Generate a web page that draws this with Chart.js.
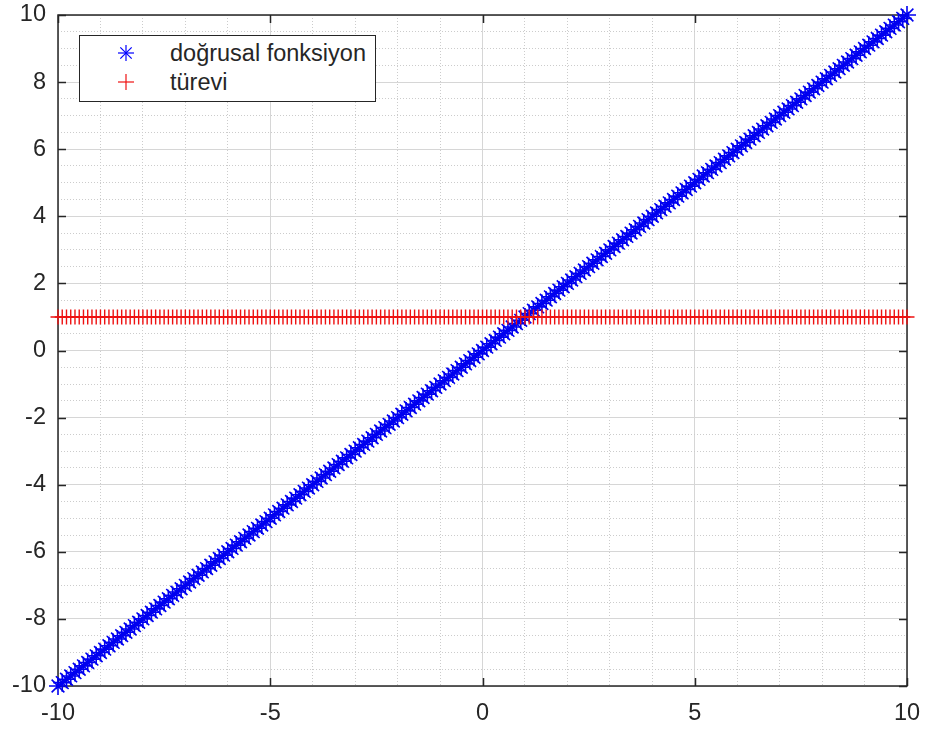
<!DOCTYPE html>
<html>
<head>
<meta charset="utf-8">
<script src="https://cdn.jsdelivr.net/npm/chart.js@4/dist/chart.umd.min.js"></script>
<style>
  body { margin: 0; background: #fff; }
  #wrap { position: relative; width: 930px; height: 731px; }
  #legend {
    position: absolute; left: 79px; top: 35px; width: 295px; height: 65px;
    border: 1px solid #262626; background: #fff;
    font-family: "Liberation Sans", Arial, Helvetica, sans-serif; font-size: 23.5px; color: #262626;
  }
  .row { position: absolute; left: 0; height: 28px; display: flex; align-items: center; }
  .row svg { position: absolute; left: 36px; }
  .row span { position: absolute; left: 90px; white-space: nowrap; }
</style>
</head>
<body>
<div id="wrap">
  <canvas id="grafik" width="930" height="731"></canvas>
  <div id="legend">
    <div class="row" style="top:3px">
      <svg width="20" height="20" viewBox="-10 -10 20 20"><g stroke="#0000ff" stroke-width="1.2">
        <line x1="0" y1="-8" x2="0" y2="8"/><line x1="-8" y1="0" x2="8" y2="0"/>
        <line x1="-5.7" y1="-5.7" x2="5.7" y2="5.7"/><line x1="-5.7" y1="5.7" x2="5.7" y2="-5.7"/></g></svg>
      <span>doğrusal fonksiyon</span>
    </div>
    <div class="row" style="top:32px">
      <svg width="20" height="20" viewBox="-10 -10 20 20"><g stroke="#ee1111" stroke-width="1.2">
        <line x1="0" y1="-8" x2="0" y2="8"/><line x1="-8" y1="0" x2="8" y2="0"/></g></svg>
      <span>türevi</span>
    </div>
  </div>
</div>
<script>
// x = -10:0.1:10
const xDegerleri = [
  -10, -9.9, -9.8, -9.7, -9.6, -9.5, -9.4, -9.3, -9.2, -9.1,
  -9, -8.9, -8.8, -8.7, -8.6, -8.5, -8.4, -8.3, -8.2, -8.1,
  -8, -7.9, -7.8, -7.7, -7.6, -7.5, -7.4, -7.3, -7.2, -7.1,
  -7, -6.9, -6.8, -6.7, -6.6, -6.5, -6.4, -6.3, -6.2, -6.1,
  -6, -5.9, -5.8, -5.7, -5.6, -5.5, -5.4, -5.3, -5.2, -5.1,
  -5, -4.9, -4.8, -4.7, -4.6, -4.5, -4.4, -4.3, -4.2, -4.1,
  -4, -3.9, -3.8, -3.7, -3.6, -3.5, -3.4, -3.3, -3.2, -3.1,
  -3, -2.9, -2.8, -2.7, -2.6, -2.5, -2.4, -2.3, -2.2, -2.1,
  -2, -1.9, -1.8, -1.7, -1.6, -1.5, -1.4, -1.3, -1.2, -1.1,
  -1, -0.9, -0.8, -0.7, -0.6, -0.5, -0.4, -0.3, -0.2, -0.1,
  0, 0.1, 0.2, 0.3, 0.4, 0.5, 0.6, 0.7, 0.8, 0.9,
  1, 1.1, 1.2, 1.3, 1.4, 1.5, 1.6, 1.7, 1.8, 1.9,
  2, 2.1, 2.2, 2.3, 2.4, 2.5, 2.6, 2.7, 2.8, 2.9,
  3, 3.1, 3.2, 3.3, 3.4, 3.5, 3.6, 3.7, 3.8, 3.9,
  4, 4.1, 4.2, 4.3, 4.4, 4.5, 4.6, 4.7, 4.8, 4.9,
  5, 5.1, 5.2, 5.3, 5.4, 5.5, 5.6, 5.7, 5.8, 5.9,
  6, 6.1, 6.2, 6.3, 6.4, 6.5, 6.6, 6.7, 6.8, 6.9,
  7, 7.1, 7.2, 7.3, 7.4, 7.5, 7.6, 7.7, 7.8, 7.9,
  8, 8.1, 8.2, 8.3, 8.4, 8.5, 8.6, 8.7, 8.8, 8.9,
  9, 9.1, 9.2, 9.3, 9.4, 9.5, 9.6, 9.7, 9.8, 9.9,
  10
];

// y = x
const dogrusalFonksiyon = [
  -10, -9.9, -9.8, -9.7, -9.6, -9.5, -9.4, -9.3, -9.2, -9.1,
  -9, -8.9, -8.8, -8.7, -8.6, -8.5, -8.4, -8.3, -8.2, -8.1,
  -8, -7.9, -7.8, -7.7, -7.6, -7.5, -7.4, -7.3, -7.2, -7.1,
  -7, -6.9, -6.8, -6.7, -6.6, -6.5, -6.4, -6.3, -6.2, -6.1,
  -6, -5.9, -5.8, -5.7, -5.6, -5.5, -5.4, -5.3, -5.2, -5.1,
  -5, -4.9, -4.8, -4.7, -4.6, -4.5, -4.4, -4.3, -4.2, -4.1,
  -4, -3.9, -3.8, -3.7, -3.6, -3.5, -3.4, -3.3, -3.2, -3.1,
  -3, -2.9, -2.8, -2.7, -2.6, -2.5, -2.4, -2.3, -2.2, -2.1,
  -2, -1.9, -1.8, -1.7, -1.6, -1.5, -1.4, -1.3, -1.2, -1.1,
  -1, -0.9, -0.8, -0.7, -0.6, -0.5, -0.4, -0.3, -0.2, -0.1,
  0, 0.1, 0.2, 0.3, 0.4, 0.5, 0.6, 0.7, 0.8, 0.9,
  1, 1.1, 1.2, 1.3, 1.4, 1.5, 1.6, 1.7, 1.8, 1.9,
  2, 2.1, 2.2, 2.3, 2.4, 2.5, 2.6, 2.7, 2.8, 2.9,
  3, 3.1, 3.2, 3.3, 3.4, 3.5, 3.6, 3.7, 3.8, 3.9,
  4, 4.1, 4.2, 4.3, 4.4, 4.5, 4.6, 4.7, 4.8, 4.9,
  5, 5.1, 5.2, 5.3, 5.4, 5.5, 5.6, 5.7, 5.8, 5.9,
  6, 6.1, 6.2, 6.3, 6.4, 6.5, 6.6, 6.7, 6.8, 6.9,
  7, 7.1, 7.2, 7.3, 7.4, 7.5, 7.6, 7.7, 7.8, 7.9,
  8, 8.1, 8.2, 8.3, 8.4, 8.5, 8.6, 8.7, 8.8, 8.9,
  9, 9.1, 9.2, 9.3, 9.4, 9.5, 9.6, 9.7, 9.8, 9.9,
  10
];

// dy/dx = 1
const turevi = [
  1, 1, 1, 1, 1, 1, 1, 1, 1, 1,
  1, 1, 1, 1, 1, 1, 1, 1, 1, 1,
  1, 1, 1, 1, 1, 1, 1, 1, 1, 1,
  1, 1, 1, 1, 1, 1, 1, 1, 1, 1,
  1, 1, 1, 1, 1, 1, 1, 1, 1, 1,
  1, 1, 1, 1, 1, 1, 1, 1, 1, 1,
  1, 1, 1, 1, 1, 1, 1, 1, 1, 1,
  1, 1, 1, 1, 1, 1, 1, 1, 1, 1,
  1, 1, 1, 1, 1, 1, 1, 1, 1, 1,
  1, 1, 1, 1, 1, 1, 1, 1, 1, 1,
  1, 1, 1, 1, 1, 1, 1, 1, 1, 1,
  1, 1, 1, 1, 1, 1, 1, 1, 1, 1,
  1, 1, 1, 1, 1, 1, 1, 1, 1, 1,
  1, 1, 1, 1, 1, 1, 1, 1, 1, 1,
  1, 1, 1, 1, 1, 1, 1, 1, 1, 1,
  1, 1, 1, 1, 1, 1, 1, 1, 1, 1,
  1, 1, 1, 1, 1, 1, 1, 1, 1, 1,
  1, 1, 1, 1, 1, 1, 1, 1, 1, 1,
  1, 1, 1, 1, 1, 1, 1, 1, 1, 1,
  1, 1, 1, 1, 1, 1, 1, 1, 1, 1,
  1
];

const xEtiketleri = [-10, -5, 0, 5, 10];
const yEtiketleri = [-10, -8, -6, -4, -2, 0, 2, 4, 6, 8, 10];

const eksenRengi = '#262626';
const anaIzgara = '#d6d6d6';
const araIzgara = '#cccccc';

const noktalar = (xs, ys) => xs.map((x, i) => ({ x, y: ys[i] }));
const anaMi = (liste, v) => liste.some(t => Math.abs(t - v) < 1e-9);

// box round the axes with inward ticks on all four sides
const kutu = {
  id: 'kutu',
  beforeDatasetsDraw(chart) {
    const { ctx, chartArea: a, scales: { x, y } } = chart;
    const uz = 8;
    ctx.save();
    ctx.strokeStyle = eksenRengi;
    ctx.lineWidth = 1.5;
    ctx.beginPath();
    xEtiketleri.forEach(v => {
      const px = Math.round(x.getPixelForValue(v)) + 0.5;
      ctx.moveTo(px, a.bottom); ctx.lineTo(px, a.bottom - uz);
      ctx.moveTo(px, a.top); ctx.lineTo(px, a.top + uz);
    });
    yEtiketleri.forEach(v => {
      const py = Math.round(y.getPixelForValue(v)) + 0.5;
      ctx.moveTo(a.left, py); ctx.lineTo(a.left + uz, py);
      ctx.moveTo(a.right, py); ctx.lineTo(a.right - uz, py);
    });
    ctx.stroke();
    ctx.strokeRect(a.left, a.top, a.right - a.left, a.bottom - a.top);
    ctx.restore();
  }
};

const izgara = (etiketler) => ({
  color: c => anaMi(etiketler, c.tick ? c.tick.value : NaN) ? anaIzgara : araIzgara,
  lineWidth: 1,
  drawTicks: false
});
const kenar = (etiketler) => ({
  display: false,
  dash: c => anaMi(etiketler, c.tick ? c.tick.value : NaN) ? [] : [1, 2]
});
const yazi = { family: '"Liberation Sans", Arial, Helvetica, sans-serif', size: 23.5 };

new Chart(document.getElementById('grafik').getContext('2d'), {
  type: 'scatter',
  data: {
    datasets: [
      {
        label: 'türevi',
        data: noktalar(xDegerleri, turevi),
        pointStyle: 'cross',
        pointRadius: 7.5,
        borderColor: '#ee1111',
        backgroundColor: '#ee1111',
        pointBorderWidth: 1.4,
        clip: false,
        order: 0
      },
      {
        label: 'doğrusal fonksiyon',
        data: noktalar(xDegerleri, dogrusalFonksiyon),
        pointStyle: 'star',
        pointRadius: 9,
        borderColor: '#0000f0',
        backgroundColor: '#0000f0',
        pointBorderWidth: 1.6,
        clip: false,
        order: 1
      }
    ]
  },
  options: {
    responsive: false,
    animation: false,
    devicePixelRatio: 1,
    layout: { padding: { top: 15, right: 23, left: 0, bottom: 0 } },
    plugins: { legend: { display: false }, tooltip: { enabled: false } },
    scales: {
      x: {
        type: 'linear', min: -10, max: 10,
        afterFit: s => { s.height = 45; s.paddingLeft = 0; s.paddingRight = 0; },
        ticks: {
          stepSize: 1, autoSkip: false, maxRotation: 0, padding: 13,
          color: eksenRengi, font: yazi,
          callback: v => anaMi(xEtiketleri, v) ? String(v) : ''
        },
        grid: izgara(xEtiketleri),
        border: kenar(xEtiketleri)
      },
      y: {
        type: 'linear', min: -10, max: 10,
        afterFit: s => { s.width = 58; s.paddingTop = 0; s.paddingBottom = 0; },
        ticks: {
          stepSize: 0.5, autoSkip: false, padding: 12,
          color: eksenRengi, font: yazi,
          callback: v => anaMi(yEtiketleri, v) ? String(v) : ''
        },
        grid: izgara(yEtiketleri),
        border: kenar(yEtiketleri)
      }
    }
  },
  plugins: [kutu]
});
</script>
</body>
</html>
